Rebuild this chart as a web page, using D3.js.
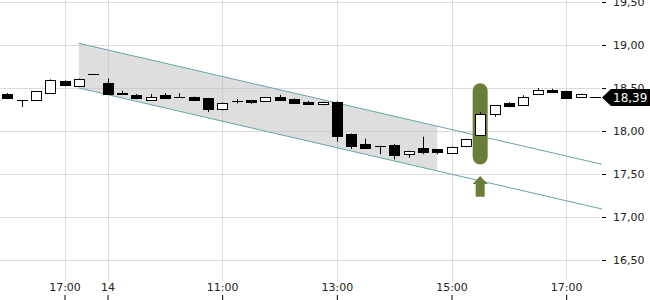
<!DOCTYPE html>
<html>
<head>
<meta charset="utf-8">
<script src="https://cdn.jsdelivr.net/npm/d3@7"></script>
<style>
  body { margin: 0; background: #fff; }
  svg { display: block; font-family: "DejaVu Sans", sans-serif; }
</style>
</head>
<body>
<div id="chart"></div>
<script>
// candle times (13th afternoon, then the 14th)
const times = ["13 16:00","13 16:15","13 16:30","13 16:45","13 17:00","13 17:15","13 17:30",
  "14 09:00","14 09:15","14 09:30","14 09:45","14 10:00","14 10:15","14 10:30","14 10:45",
  "14 11:00","14 11:15","14 11:30","14 11:45","14 12:00","14 12:15","14 12:30","14 12:45",
  "14 13:00","14 13:15","14 13:30","14 13:45","14 14:00","14 14:15","14 14:30","14 14:45",
  "14 15:00","14 15:15","14 15:30","14 15:45","14 16:00","14 16:15","14 16:30","14 16:45",
  "14 17:00","14 17:15","14 17:30"];

const opens  = [18.43,18.36,18.36,18.44,18.58,18.53,18.66,18.56,18.44,18.42,18.36,18.42,18.40,18.395,18.38,
  18.25,18.35,18.357,18.345,18.40,18.376,18.34,18.31,18.34,17.965,17.85,17.826,17.837,17.73,17.806,17.79,
  17.75,17.83,17.95,18.194,18.326,18.30,18.427,18.473,18.469,18.395,18.39];
const highs  = [18.44,18.36,18.46,18.60,18.59,18.61,18.66,18.61,18.47,18.43,18.43,18.44,18.44,18.40,18.385,
  18.33,18.37,18.36,18.39,18.42,18.38,18.35,18.34,18.345,17.97,17.91,17.83,17.85,17.77,17.934,17.79,
  17.82,17.91,18.22,18.30,18.337,18.415,18.50,18.49,18.47,18.434,18.39];
const lows   = [18.37,18.28,18.36,18.44,18.52,18.53,18.66,18.42,18.42,18.37,18.35,18.37,18.39,18.35,18.22,
  18.24,18.32,18.315,18.34,18.36,18.32,18.315,18.30,17.875,17.79,17.80,17.73,17.67,17.69,17.73,17.73,
  17.74,17.81,17.95,18.166,18.275,18.30,18.427,18.45,18.387,18.395,18.39];
const closes = [18.38,18.36,18.46,18.59,18.53,18.61,18.66,18.43,18.43,18.38,18.40,18.38,18.395,18.357,18.25,
  18.32,18.345,18.334,18.39,18.364,18.326,18.32,18.337,17.945,17.83,17.805,17.826,17.725,17.767,17.764,17.75,
  17.814,17.91,18.194,18.30,18.287,18.39,18.473,18.453,18.387,18.434,18.39];

const xTicks = ["13 17:00","14 09:00","14 11:00","14 13:00","14 15:00","14 17:00"];
const xTickLabels = ["17:00","14","11:00","13:00","15:00","17:00"];
const yTicks = [16.5, 17, 17.5, 18, 18.5, 19, 19.5];

// trend channel: anchors at two candles, upper and lower bound
const channelTimes = ["13 17:15","14 17:30"];
const channelUpper = [19.02, 17.632];
const channelLower = [18.50, 17.112];
const shadeEnd = "14 14:45";

// signal marker
const signalTime = "14 15:30";
const signalRange = [17.61, 18.555];
const arrowRange = [17.235, 17.477];
const lastPrice = 18.39;

const W = 650, H = 300;
const PLOT_RIGHT = 602;
const PLOT_BOTTOM = 281;

const svg = d3.select("#chart").append("svg")
  .attr("width", W).attr("height", H);

const x = d3.scaleLinear()
  .domain([-0.5, times.length - 0.5])
  .range([0, PLOT_RIGHT]);
const xi = t => x(times.indexOf(t));

const y = d3.scaleLinear()
  .domain([18, 19])
  .range([131, 45]);

const fmt = v => d3.format(".2f")(v).replace(".", ",");

// grid
svg.append("g").selectAll("line.h")
  .data(yTicks).enter().append("line")
  .attr("x1", 0).attr("x2", PLOT_RIGHT - 2)
  .attr("y1", d => Math.round(y(d)) + 0.5).attr("y2", d => Math.round(y(d)) + 0.5)
  .attr("stroke", "#dcdcdc");
svg.append("g").selectAll("line.v")
  .data(xTicks).enter().append("line")
  .attr("x1", d => Math.round(xi(d)) + 0.5).attr("x2", d => Math.round(xi(d)) + 0.5)
  .attr("y1", 0).attr("y2", PLOT_BOTTOM)
  .attr("stroke", "#dcdcdc");

// channel lines, extended to the right edge
const i0 = times.indexOf(channelTimes[0]), i1 = times.indexOf(channelTimes[1]);
const atIdx = (arr, i) => arr[0] + (arr[1] - arr[0]) * (i - i0) / (i1 - i0);
const iEnd = x.domain()[1];
const iShade = times.indexOf(shadeEnd);

const shade = [[i0, channelUpper[0]], [iShade, atIdx(channelUpper, iShade)],
  [iShade, atIdx(channelLower, iShade)], [i0, channelLower[0]]];
svg.append("path")
  .attr("d", d3.line().x(d => x(d[0])).y(d => y(d[1]))(shade) + "Z")
  .attr("fill", "#bdbdbd").attr("fill-opacity", 0.5);

[channelUpper, channelLower].forEach(arr => {
  svg.append("line")
    .attr("x1", x(i0)).attr("y1", y(arr[0]))
    .attr("x2", x(iEnd)).attr("y2", y(atIdx(arr, iEnd)))
    .attr("stroke", "#6aa5a9").attr("stroke-width", 1);
});

// signal pill and arrow
const sx = xi(signalTime);
svg.append("rect")
  .attr("x", sx - 7.5).attr("width", 15)
  .attr("y", y(signalRange[1])).attr("height", y(signalRange[0]) - y(signalRange[1]))
  .attr("rx", 7.5).attr("fill", "#6b7d3b");
const aTop = y(arrowRange[1]), aBot = y(arrowRange[0]);
svg.append("path")
  .attr("d", `M${sx},${aTop} L${sx + 7.5},${aTop + 8} L${sx + 4.5},${aTop + 8} L${sx + 4.5},${aBot}
    L${sx - 4.5},${aBot} L${sx - 4.5},${aTop + 8} L${sx - 7.5},${aTop + 8} Z`)
  .attr("fill", "#6b7d3b");

// candles
const candles = times.map((t, i) => ({ t: t, o: opens[i], h: highs[i], l: lows[i], c: closes[i] }));
const bodyW = 10;
const bodyH = d => Math.round(Math.abs(y(d.o) - y(d.c)));
const g = svg.append("g").selectAll("g")
  .data(candles).enter().append("g")
  .attr("transform", d => `translate(${Math.round(xi(d.t))},0)`);

g.append("line")
  .attr("x1", 0.5).attr("x2", 0.5)
  .attr("y1", d => y(d.h)).attr("y2", d => y(d.l))
  .attr("stroke", "#000");

// bodies; flat candles (open == close) become a single dash
g.append("rect")
  .attr("x", d => bodyH(d) < 1 ? -bodyW / 2 : -bodyW / 2 + 0.5)
  .attr("width", d => bodyH(d) < 1 ? bodyW + 1 : bodyW)
  .attr("y", d => bodyH(d) < 1 ? Math.round(y(d.c)) : Math.round(y(Math.max(d.o, d.c))) + 0.5)
  .attr("height", d => bodyH(d) < 1 ? 1 : bodyH(d))
  .attr("fill", d => d.c < d.o || bodyH(d) < 1 ? "#000" : "#fff")
  .attr("stroke", d => bodyH(d) < 1 ? "none" : "#000");

// right axis
const yAxis = svg.append("g")
  .attr("transform", `translate(${PLOT_RIGHT},0)`)
  .call(d3.axisRight(y).tickValues(yTicks).tickSize(4).tickPadding(7).tickFormat(fmt));
yAxis.select(".domain").remove();
yAxis.selectAll("text").attr("font-size", 11).attr("fill", "#222").attr("font-family", "DejaVu Sans");

// bottom axis, labels above the tick marks
const xAxis = svg.append("g")
  .attr("transform", `translate(0,${H - 5})`)
  .call(d3.axisBottom(x).tickValues(xTicks.map(t => times.indexOf(t))).tickSize(5)
    .tickFormat((d, i) => xTickLabels[i]));
xAxis.select(".domain").remove();
xAxis.selectAll("text").attr("y", -4).attr("dy", 0)
  .attr("font-size", 11).attr("fill", "#222").attr("font-family", "DejaVu Sans");

// last price tag
const ly = y(lastPrice);
svg.append("path")
  .attr("d", `M${PLOT_RIGHT},${ly} L${PLOT_RIGHT + 9},${ly - 8.5} L${W},${ly - 8.5} L${W},${ly + 8.5} L${PLOT_RIGHT + 9},${ly + 8.5} Z`)
  .attr("fill", "#000");
svg.append("text")
  .attr("x", PLOT_RIGHT + 11).attr("y", ly + 4.5)
  .attr("font-size", 12).attr("fill", "#fff")
  .text(fmt(lastPrice));
</script>
</body>
</html>
